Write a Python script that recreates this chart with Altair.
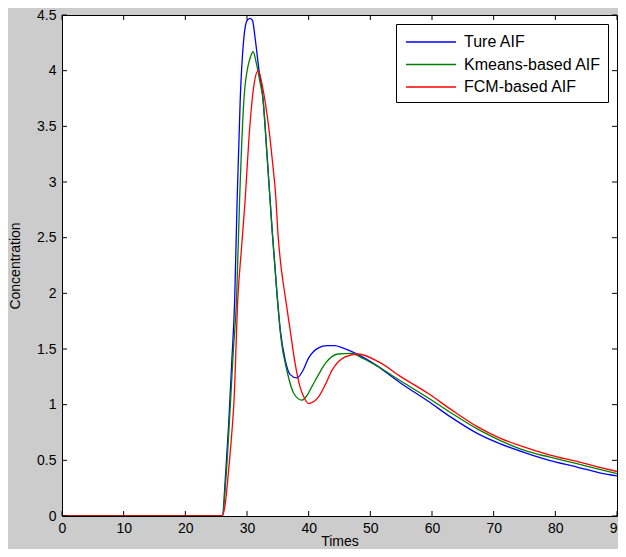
import altair as alt
import pandas as pd

# ---- data ----
names = ["Ture AIF", "Kmeans-based AIF", "FCM-based AIF"]
colors = ["#0000ff", "#008000", "#ff0000"]

true_t = [0, 26, 26.5, 27, 27.5, 28, 28.4, 28.9, 29.5, 30, 30.5, 30.9, 31.3, 32, 32.5, 33.3, 34.1, 34.9, 35.4, 36.2, 37.0, 38.1, 39, 40, 41.6, 43, 44.2, 45.5, 47, 49, 50.8, 55, 59.4, 63, 67.4, 71, 75.5, 79, 83.5, 87, 90]
true_c = [0, 0, 0.35, 0.8, 1.35, 1.94, 2.84, 3.74, 4.3, 4.45, 4.47, 4.45, 4.3, 3.98, 3.8, 3.2, 2.55, 1.97, 1.67, 1.40, 1.27, 1.24, 1.3, 1.42, 1.51, 1.53, 1.53, 1.51, 1.476, 1.42, 1.36, 1.19, 1.03, 0.89, 0.74, 0.65, 0.56, 0.5, 0.44, 0.39, 0.36]

km_t = [0, 26, 26.6, 27.2, 27.8, 28.3, 28.8, 29.5, 30.2, 30.6, 31, 31.5, 32.1, 32.6, 33.3, 34.1, 34.9, 35.5, 36.5, 37.6, 38.9, 39.7, 40.5, 41.6, 42.7, 44.8, 46.8, 49, 51.3, 55, 59.4, 63, 67.4, 71, 75.5, 79, 83.5, 87, 90]
km_c = [0, 0, 0.35, 0.9, 1.5, 1.94, 2.84, 3.74, 4.05, 4.13, 4.17, 4.07, 3.9, 3.74, 3.2, 2.55, 1.97, 1.6, 1.3, 1.10, 1.04, 1.08, 1.16, 1.27, 1.37, 1.455, 1.46, 1.41, 1.34, 1.21, 1.06, 0.93, 0.78, 0.68, 0.58, 0.53, 0.47, 0.42, 0.38]

fcm_t = [0, 26, 26.5, 27, 27.5, 27.9, 28.5, 29.1, 29.7, 30.3, 31.1, 31.8, 32.7, 33.5, 34.1, 34.7, 35.0, 35.4, 36.2, 37.0, 37.8, 38.6, 39.3, 40.0, 40.9, 41.6, 42.7, 43.8, 45.9, 48, 51.3, 55, 59.4, 63, 67.4, 71, 75.5, 79, 83.5, 87, 90]
fcm_c = [0, 0, 0.12, 0.4, 0.72, 1.04, 1.94, 2.4, 2.84, 3.38, 3.86, 4.0, 3.80, 3.50, 3.2, 2.84, 2.55, 2.3, 1.97, 1.67, 1.37, 1.16, 1.06, 1.01, 1.03, 1.07, 1.18, 1.31, 1.43, 1.455, 1.386, 1.25, 1.10, 0.96, 0.80, 0.70, 0.61, 0.55, 0.49, 0.44, 0.40]

x_ticks = [0, 10, 20, 30, 40, 50, 60, 70, 80, 90]
y_ticks = [0, 0.5, 1, 1.5, 2, 2.5, 3, 3.5, 4, 4.5]

rows = []
for name, ts, cs in zip(names, [true_t, km_t, fcm_t], [true_c, km_c, fcm_c]):
    for t, c in zip(ts, cs):
        rows.append({"t": t, "c": c, "series": name})
df = pd.DataFrame(rows)
xdf = pd.DataFrame({"v": x_ticks})
ydf = pd.DataFrame({"v": y_ticks})

W, H = 555, 501
FONT = "Liberation Sans"
xs = alt.Scale(domain=[0, 90], nice=False, zero=False)
ys = alt.Scale(domain=[0, 4.5], nice=False, zero=False)

lines = alt.Chart(df).mark_line(strokeWidth=1.3, clip=True, interpolate="monotone").encode(
    x=alt.X("t:Q", scale=xs, title="Times",
            axis=alt.Axis(values=x_ticks, ticks=False, domain=False, grid=False,
                          labelFont=FONT, labelFontSize=14, labelColor="black",
                          labelPadding=5, labelFlush=False,
                          titleFont=FONT, titleFontSize=14, titleFontWeight="normal",
                          titleColor="black", titleBaseline="alphabetic", titleY=29)),
    y=alt.Y("c:Q", scale=ys, title="Concentration",
            axis=alt.Axis(values=y_ticks, ticks=False, domain=False, grid=False,
                          labelExpr="datum.value", labelFlush=False,
                          labelFont=FONT, labelFontSize=14, labelColor="black",
                          labelPadding=6,
                          titleFont=FONT, titleFontSize=14, titleFontWeight="normal",
                          titleColor="black", titleBaseline="alphabetic",
                          titleX=-43, titleY=H / 2)),
    color=alt.Color("series:N", scale=alt.Scale(domain=names, range=colors),
                    legend=alt.Legend(title=None, orient="none", legendX=334, legendY=9,
                                      fillColor="white", strokeColor="black",
                                      padding=7, rowPadding=3.5,
                                      symbolType="M-2.5,0L2.5,0", symbolSize=400,
                                      symbolStrokeWidth=1.3, symbolOffset=17,
                                      labelOffset=22,
                                      labelFont=FONT, labelFontSize=16, labelColor="black")),
)

tick_bottom = alt.Chart(xdf).mark_rule(color="black", strokeWidth=1).encode(
    x=alt.X("v:Q", scale=xs), y=alt.value(H), y2=alt.value(H - 5))
tick_top = alt.Chart(xdf).mark_rule(color="black", strokeWidth=1).encode(
    x=alt.X("v:Q", scale=xs), y=alt.value(0), y2=alt.value(5))
tick_left = alt.Chart(ydf).mark_rule(color="black", strokeWidth=1).encode(
    y=alt.Y("v:Q", scale=ys), x=alt.value(0), x2=alt.value(5))
tick_right = alt.Chart(ydf).mark_rule(color="black", strokeWidth=1).encode(
    y=alt.Y("v:Q", scale=ys), x=alt.value(W), x2=alt.value(W - 5))

chart = alt.layer(lines, tick_bottom, tick_top, tick_left, tick_right).properties(
    width=W, height=H,
    autosize=alt.AutoSizeParams(type="none"),
    padding={"left": 54, "top": 7, "right": 1, "bottom": 33},
    background="#cccccc",
).configure_view(stroke="black", strokeWidth=1, fill="white")

chart.save("out.html", embed_options={"renderer": "svg", "actions": False})
